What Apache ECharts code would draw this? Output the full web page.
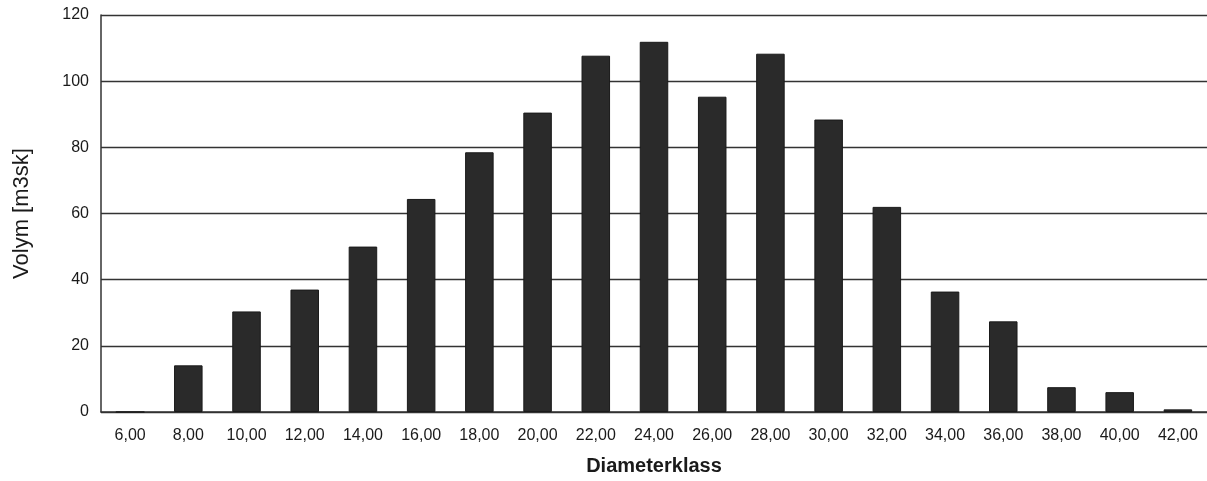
<!DOCTYPE html>
<html><head><meta charset="utf-8">
<script src="https://cdn.jsdelivr.net/npm/echarts@6/dist/echarts.min.js"></script>
<style>html,body{margin:0;padding:0;background:#fff}#c{width:1207px;height:481px}</style>
</head><body><div id="c"></div>
<script>
const categories = ["6,00","8,00","10,00","12,00","14,00","16,00","18,00","20,00","22,00","24,00","26,00","28,00","30,00","32,00","34,00","36,00","38,00","40,00","42,00"];
const volym = [0,14.1,30.4,37,50,64.4,78.5,90.5,107.7,111.9,95.3,108.3,88.4,62,36.4,27.4,7.5,6,0.8];
const yTicks = [0,20,40,60,80,100,120];

const chart = echarts.init(document.getElementById('c'));
chart.setOption({
  animation:false,
  grid:{left:101, top:15, width:1110, bottom:67, containLabel:false},
  xAxis:{
    type:'category', data:categories,
    name:'Diameterklass', nameLocation:'middle', nameGap:44,
    nameTextStyle:{fontFamily:'Liberation Sans, Arial', fontSize:20, color:'#1a1a1a', fontWeight:'bold'},
    axisLine:{lineStyle:{color:'#333', width:1.5}},
    axisTick:{show:false},
    axisLabel:{fontFamily:'Liberation Sans, Arial', fontSize:16, color:'#1a1a1a', margin:16, interval:0}
  },
  yAxis:{
    type:'value', min:yTicks[0], max:yTicks[yTicks.length-1], interval:20,
    name:'Volym [m3sk]', nameLocation:'middle', nameGap:68,
    nameTextStyle:{fontFamily:'Liberation Sans, Arial', fontSize:22, color:'#1a1a1a'},
    axisLine:{show:true, lineStyle:{color:'#333', width:1.5}},
    axisTick:{show:false},
    splitLine:{lineStyle:{color:'#333', width:1.3}},
    axisLabel:{fontFamily:'Liberation Sans, Arial', fontSize:16, color:'#1a1a1a', margin:12}
  },
  series:[{
    type:'bar', data:volym, barWidth:'49%',
    itemStyle:{color:'#2a2a2a', borderColor:'#1a1a1a', borderWidth:1}
  }]
});
</script></body></html>
